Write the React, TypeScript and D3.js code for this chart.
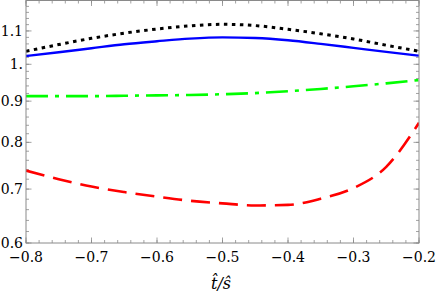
import React from "react";
import * as d3 from "d3";

// t/s sample points
const xValues = [-0.8, -0.75, -0.7, -0.65, -0.6, -0.55, -0.5, -0.45, -0.4, -0.35, -0.3, -0.25, -0.2];

// ratios
const blackDotted = [1.038, 1.058, 1.077, 1.093, 1.106, 1.116, 1.121, 1.117, 1.105, 1.091, 1.075, 1.056, 1.038];
const blueSolid = [1.024, 1.035, 1.047, 1.059, 1.068, 1.076, 1.080, 1.078, 1.071, 1.060, 1.048, 1.036, 1.025];
const greenDashDot = [0.913, 0.913, 0.913, 0.914, 0.915, 0.916, 0.918, 0.921, 0.926, 0.932, 0.939, 0.947, 0.956];
const redDashed = [0.738, 0.720, 0.705, 0.694, 0.685, 0.677, 0.672, 0.668, 0.669, 0.681, 0.702, 0.746, 0.846];

const xMajor = [-0.8, -0.7, -0.6, -0.5, -0.4, -0.3, -0.2];
const yMajor = [0.6, 0.7, 0.8, 0.9, 1.0, 1.1];
const yLabels = ["0.6", "0.7", "0.8", "0.9", "1.", "1.1"];

const series = [
    {values: blackDotted, color: "#000000", dash: "3.5,4.5", width: 3},
    {values: blueSolid, color: "#0000ff", dash: null, width: 2.4},
    {values: greenDashDot, color: "#00ff00", dash: "22,7,4,7", width: 2.6},
    {values: redDashed, color: "#ff0000", dash: "19,9", width: 2.6},
];

const FONT = "'DejaVu Serif', 'Liberation Serif', serif";

export default function App()
{
    const width = 436;
    const height = 293;
    const left = 26, right = 419, top = 0.5, bottom = 243;

    const x = d3.scaleLinear().domain([-0.8, -0.2]).range([left, right]);
    const y = d3.scaleLog().domain([0.6, 1.2]).range([bottom, top]);

    const xMinor = d3.range(-0.8, -0.199, 0.02).map((v) => +v.toFixed(2));
    const yMinor = d3.range(0.6, 1.201, 0.02).map((v) => +v.toFixed(2));

    const frameColor = "#8a8a8a";
    const fmtX = (v: number) => "\u2212" + Math.abs(v).toFixed(1);

    const line = (vals: number[]) =>
        d3.line<number>()
            .x((_, i) => x(xValues[i]))
            .y((d) => y(d))
            .curve(d3.curveMonotoneX)(vals) || "";

    return (
        <svg width={width} height={height}
             style={{position: "fixed", left: 0, top: 0, background: "#fff"}}>
            <defs>
                <clipPath id="plot">
                    <rect x={left} y={top} width={right - left} height={bottom - top}/>
                </clipPath>
            </defs>

            {/* minor ticks */}
            {xMinor.map((v) => (
                <g key={"xm" + v} stroke={frameColor} strokeWidth={0.8}>
                    <line x1={x(v)} x2={x(v)} y1={bottom} y2={bottom - 3}/>
                    <line x1={x(v)} x2={x(v)} y1={top} y2={top + 3}/>
                </g>
            ))}
            {yMinor.map((v) => (
                <g key={"ym" + v} stroke={frameColor} strokeWidth={0.8}>
                    <line x1={left} x2={left + 3} y1={y(v)} y2={y(v)}/>
                    <line x1={right} x2={right - 3} y1={y(v)} y2={y(v)}/>
                </g>
            ))}
            {/* major ticks */}
            {xMajor.map((v) => (
                <g key={"xM" + v} stroke={frameColor} strokeWidth={0.8}>
                    <line x1={x(v)} x2={x(v)} y1={bottom} y2={bottom - 5.5}/>
                    <line x1={x(v)} x2={x(v)} y1={top} y2={top + 5.5}/>
                </g>
            ))}
            {yMajor.map((v) => (
                <g key={"yM" + v} stroke={frameColor} strokeWidth={0.8}>
                    <line x1={left} x2={left + 5.5} y1={y(v)} y2={y(v)}/>
                    <line x1={right} x2={right - 5.5} y1={y(v)} y2={y(v)}/>
                </g>
            ))}

            <g clipPath="url(#plot)">
                {series.map((s, i) => (
                    <path key={i} d={line(s.values)} fill="none" stroke={s.color}
                          strokeWidth={s.width} strokeDasharray={s.dash || undefined}/>
                ))}
            </g>

            <rect x={left} y={top} width={right - left} height={bottom - top}
                  fill="none" stroke={frameColor} strokeWidth={1}/>

            {xMajor.map((v) => (
                <text key={"xl" + v} x={x(v)} y={262} fontFamily={FONT} fontSize={14}
                      textAnchor="middle">{fmtX(v)}</text>
            ))}
            {yMajor.map((v, i) => (
                <text key={"yl" + v} x={23} y={y(v)} dy="0.33em" fontFamily={FONT} fontSize={14}
                      textAnchor="end">{yLabels[i]}</text>
            ))}

            <text x={221} y={289} fontFamily={FONT} fontSize={16} textAnchor="middle"
                  fontStyle="italic">{"t\u0302/\u015D"}</text>
        </svg>
    );
}
